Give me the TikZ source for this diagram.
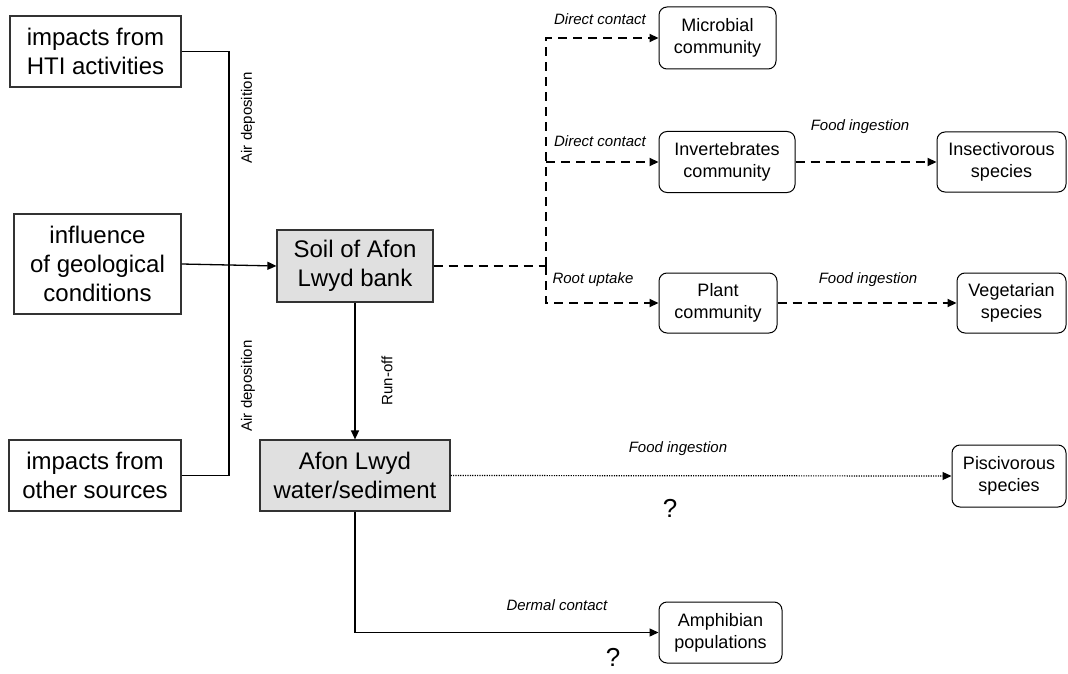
\documentclass[tikz,border=0pt]{standalone}
\usepackage{fontspec}
\setmainfont{Liberation Sans}
\usetikzlibrary{arrows.meta}

\begin{document}
\begin{tikzpicture}[
	x=1pt,y=-1pt,
	font=\fontsize{24}{29}\selectfont,
	src/.style={draw=black!80,line width=1.2pt,align=center,inner sep=0pt},
	hub/.style={draw=black!80,fill=black!12,line width=1.2pt,align=center,inner sep=0pt},
	bio/.style={draw,rounded corners=8pt,line width=1pt,align=center,inner sep=0pt,font=\fontsize{18}{22}\selectfont},
	lbl/.style={font=\fontsize{15}{18}\selectfont},
	way/.style={font=\fontsize{15}{18}\selectfont\itshape},
	qq/.style={font=\fontsize{26}{30}\selectfont},
	tip/.style={-{Triangle[length=9pt,width=8pt]}},
	flow/.style={tip,line width=2.2pt,dash pattern=on 9pt off 6pt},
	link/.style={tip,line width=1.3pt},
	]
\useasboundingbox (0,0) rectangle (1068,674);
\node [src,minimum width=171,minimum height=71] (hti) at (95.5,51.5) {impacts from\\HTI activities};
\node [src,minimum width=167,minimum height=100] (geol) at (97.5,264) {influence\\of geological\\conditions};
\node [src,minimum width=172,minimum height=71] (other) at (95,475.5) {impacts from\\other sources};
\node [hub,minimum width=156,minimum height=72] (soil) at (355,266) {Soil of Afon\\Lwyd bank};
\node [hub,minimum width=190,minimum height=71] (water) at (355,475.5) {Afon Lwyd\\water/sediment};
\node [bio,minimum width=117,minimum height=62] (micro) at (717.5,38) {Microbial\\community};
\node [bio,minimum width=136,minimum height=61] (invert) at (727,162) {Invertebrates\\community};
\node [bio,minimum width=129,minimum height=60] (insect) at (1001.5,162) {Insectivorous\\species};
\node [bio,minimum width=118,minimum height=60] (plant) at (718,303) {Plant\\community};
\node [bio,minimum width=109,minimum height=60] (veget) at (1011.5,303) {Vegetarian\\species};
\node [bio,minimum width=114,minimum height=62] (pisci) at (1009,476) {Piscivorous\\species};
\node [bio,minimum width=123,minimum height=61] (amphib) at (720.5,632.5) {Amphibian\\populations};
\coordinate (airtop) at (229,51.5);
\coordinate (airbot) at (229,475.5);
\coordinate (split) at (546,266);
\draw [line width=1.2pt] (hti.east) -- (airtop) -- (airbot) -- (other.east);
\draw [link] (geol.east) -- (soil.west);
\draw [link] (soil.south) -- (water.north);
\draw [line width=2.2pt,dash pattern=on 9pt off 6pt] (soil.east) -- (split);
\draw [flow] (split) |- (micro.west);
\draw [flow] (split) |- (plant.west);
\draw [flow] (split |- invert.west) -- (invert.west);
\draw [flow] (invert.east) -- (insect.west);
\draw [flow] (plant.east) -- (veget.west);
\draw [tip,line width=1.2pt,dash pattern=on 1.2pt off 1.2pt] (water.east) -- (pisci.west);
\draw [link] (water.south) |- (amphib.west);
\node [lbl,rotate=90] (air1) at (248,118) {Air deposition};
\node [lbl,rotate=90] (air2) at (248,386) {Air deposition};
\node [lbl,rotate=90] (runoff) at (387,381) {Run-off};
\node [way] (dc1) at (600,19) {Direct contact};
\node [way] (dc2) at (600,141) {Direct contact};
\node [way] (root) at (593,280) {Root uptake};
\node [way] (food1) at (860,127) {Food ingestion};
\node [way] (food2) at (868,280) {Food ingestion};
\node [way] (food3) at (678,449) {Food ingestion};
\node [way] (dermal) at (557,605) {Dermal contact};
\node [qq] (q1) at (670,508) {?};
\node [qq] (q2) at (613,657) {?};
\end{tikzpicture}
\end{document}
